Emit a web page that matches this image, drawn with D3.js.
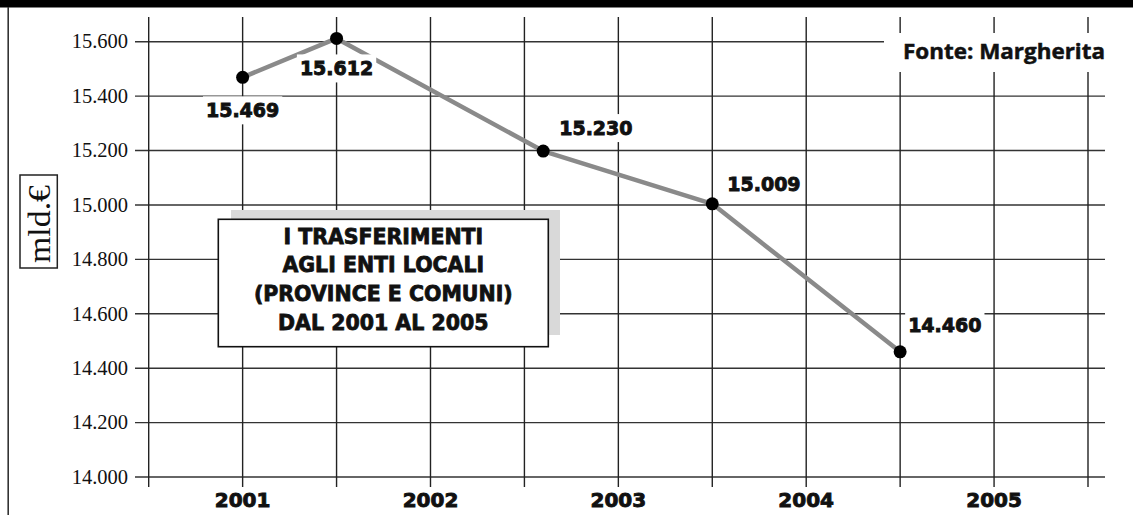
<!DOCTYPE html>
<html>
<head>
<meta charset="utf-8">
<script src="https://cdn.jsdelivr.net/npm/d3@7"></script>
<style>
  html, body { margin: 0; padding: 0; background: #fff; }
  svg { display: block; }
</style>
</head>
<body>
<svg id="chart" width="1133" height="515"></svg>
<script>
// ---- data ----
const years = [2001, 2002, 2003, 2004, 2005];
const pointX = [2001, 2001.5, 2002.6, 2003.5, 2004.5];          // horizontal placement as drawn
const pointValues = [15469, 15612, 15198, 15004, 14460];          // plotted height as drawn (mln €)
const pointLabels = ["15.469", "15.612", "15.230", "15.009", "14.460"];
const yTicks = [14000, 14200, 14400, 14600, 14800, 15000, 15200, 15400, 15600];
const yTickLabels = ["14.000", "14.200", "14.400", "14.600", "14.800", "15.000", "15.200", "15.400", "15.600"];
const xGrid = [2000.5, 2001, 2001.5, 2002, 2002.5, 2003, 2003.5, 2004, 2004.5, 2005, 2005.5];
const titleLines = ["I TRASFERIMENTI", "AGLI ENTI LOCALI", "(PROVINCE E COMUNI)", "DAL 2001 AL 2005"];
const unitLabel = "mld.€";
const sourceLabel = "Fonte: Margherita";

// label layout (offsets from the point)
const labelLayout = [
  {dx: 0, dy: 40, anchor: "middle"},
  {dx: 0, dy: 37, anchor: "middle"},
  {dx: 16, dy: -16, anchor: "start"},
  {dx: 15, dy: -13, anchor: "start"},
  {dx: 8, dy: -20, anchor: "start"}
];

const svg = d3.select("#chart");
const W = 1133, H = 515;
const heavy = "'DejaVu Sans', sans-serif";

const x = d3.scaleLinear().domain([2000.5, 2005.5]).range([148.7, 1088]);
const y = d3.scaleLinear().domain([14000, 15600]).range([477, 41.7]);

// frame
svg.append("rect").attr("x", 0).attr("y", 0).attr("width", W).attr("height", 7.5).attr("fill", "#000");
svg.append("line").attr("x1", 8.2).attr("x2", 8.2).attr("y1", 7).attr("y2", H)
  .attr("stroke", "#333").attr("stroke-width", 1.6);

// grid
const grid = svg.append("g");
grid.selectAll("line.h").data(yTicks).join("line")
  .attr("x1", 135).attr("x2", 1105)
  .attr("y1", d => y(d)).attr("y2", d => y(d))
  .attr("stroke", "#333").attr("stroke-width", 1.4);
grid.selectAll("line.v").data(xGrid).join("line")
  .attr("x1", d => x(d)).attr("x2", d => x(d))
  .attr("y1", 17).attr("y2", 487)
  .attr("stroke", "#222").attr("stroke-width", 1.4);

// y axis labels
svg.append("g").selectAll("text").data(yTicks).join("text")
  .attr("x", 128).attr("y", d => y(d))
  .attr("dy", "0.33em")
  .attr("text-anchor", "end")
  .attr("font-family", "'Liberation Serif', 'DejaVu Serif', serif")
  .attr("font-size", 20.5)
  .attr("fill", "#111")
  .text((d, i) => yTickLabels[i]);

// x axis labels
svg.append("g").selectAll("text").data(years).join("text")
  .attr("x", d => x(d)).attr("y", 507)
  .attr("text-anchor", "middle")
  .attr("font-family", heavy)
  .attr("font-weight", "bold")
  .attr("font-size", 20)
  .attr("fill", "#111").attr("stroke", "#111").attr("stroke-width", 0.9)
  .text(d => d);

// unit box
const ub = svg.append("g");
ub.append("rect").attr("x", 20).attr("y", 175).attr("width", 37.3).attr("height", 93)
  .attr("fill", "#fff").attr("stroke", "#222").attr("stroke-width", 1.5);
ub.append("text")
  .attr("transform", "translate(50,263) rotate(-90)")
  .attr("font-family", "'Liberation Serif', 'DejaVu Serif', serif")
  .attr("font-size", 32)
  .attr("textLength", 78).attr("lengthAdjust", "spacingAndGlyphs")
  .attr("fill", "#111")
  .text(unitLabel);

// source
svg.append("rect").attr("x", 884).attr("y", 33).attr("width", 226).attr("height", 39).attr("fill", "#fff");
svg.append("text").attr("x", 903).attr("y", 59)
  .attr("font-family", "'Open Sans', sans-serif").attr("font-weight", "bold")
  .attr("font-size", 22).attr("fill", "#111").attr("stroke", "#111").attr("stroke-width", 0.5)
  .attr("textLength", 202).attr("lengthAdjust", "spacingAndGlyphs")
  .text(sourceLabel);

// title box
svg.append("rect").attr("x", 231).attr("y", 210).attr("width", 329).attr("height", 125).attr("fill", "#d9d9d9");
svg.append("rect").attr("x", 218.3).attr("y", 219.3).attr("width", 330).attr("height", 127.4)
  .attr("fill", "#fff").attr("stroke", "#111").attr("stroke-width", 1.6);
const tb = [243.5, 272, 301, 330];
svg.append("g").selectAll("text").data(titleLines).join("text")
  .attr("x", 383.3).attr("y", (d, i) => tb[i])
  .attr("text-anchor", "middle")
  .attr("font-family", heavy)
  .attr("font-weight", "bold")
  .attr("font-size", 20.5)
  .attr("fill", "#111").attr("stroke", "#111").attr("stroke-width", 0.8)
  .text(d => d);

// line
const pts = pointX.map((d, i) => [x(d), y(pointValues[i])]);
svg.append("path").datum(pts)
  .attr("d", d3.line())
  .attr("fill", "none").attr("stroke", "#8a8a8a").attr("stroke-width", 4.5)
  .attr("stroke-linejoin", "round");

// labels with white backgrounds
const lg = svg.append("g");
pointLabels.forEach((t, i) => {
  const L = labelLayout[i];
  const g = lg.append("g");
  const txt = g.append("text")
    .attr("x", pts[i][0] + L.dx).attr("y", pts[i][1] + L.dy)
    .attr("text-anchor", L.anchor)
    .attr("font-family", heavy)
    .attr("font-weight", "bold")
    .attr("font-size", 19)
    .attr("fill", "#111").attr("stroke", "#111").attr("stroke-width", 0.9)
    .text(t);
  const bb = txt.node().getBBox();
  g.insert("rect", "text")
    .attr("x", bb.x - 3).attr("y", bb.y - 3)
    .attr("width", bb.width + 6).attr("height", bb.height + 6)
    .attr("fill", "#fff");
});

// dots
svg.append("g").selectAll("circle").data(pts).join("circle")
  .attr("cx", d => d[0]).attr("cy", d => d[1]).attr("r", 6.5)
  .attr("fill", "#000");
</script>
</body>
</html>
